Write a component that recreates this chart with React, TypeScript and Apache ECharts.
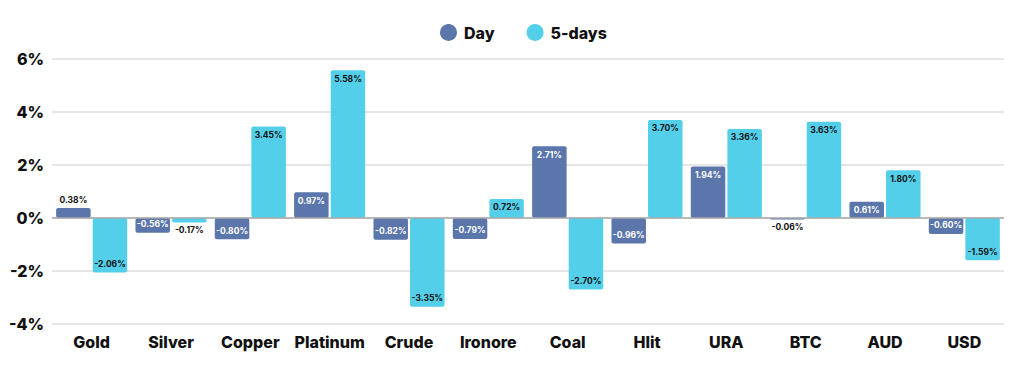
import React, { useEffect, useRef } from "react";
import * as echarts from "echarts";

const categories = ["Gold", "Silver", "Copper", "Platinum", "Crude", "Ironore", "Coal", "Hlit", "URA", "BTC", "AUD", "USD"];
const dayValues = [0.38, -0.56, -0.8, 0.97, -0.82, -0.79, 2.71, -0.96, 1.94, -0.06, 0.61, -0.6];
const fiveDayValues = [-2.06, -0.17, 3.45, 5.58, -3.35, 0.72, -2.7, 3.7, 3.36, 3.63, 1.8, -1.59];
const yTicks = [-4, -2, 0, 2, 4, 6];

const DAY_COLOR = "#5b76ab";
const FIVE_COLOR = "#54cfea";
const FONT = "Inter, 'Noto Sans', sans-serif";

function buildData(values: number[], insideColor: string) {
  return values.map((v) => {
    const small = Math.abs(v) < 0.45;
    let position: string;
    if (small) position = v >= 0 ? "top" : "bottom";
    else position = v >= 0 ? "insideTop" : "insideBottom";
    return {
      value: v,
      label: {
        position,
        color: small ? "#111" : insideColor,
        distance: small ? 3 : 4,
      },
    };
  });
}

export default function App() {
  const ref = useRef<HTMLDivElement>(null);
  useEffect(() => {
    if (!ref.current) return;
    const chart = echarts.init(ref.current, null, { renderer: "svg" });
    const labelBase = {
      show: true,
      fontSize: 8.5,
      fontWeight: 700,
      fontFamily: FONT,
      formatter: (p: any) => p.value.toFixed(2) + "%",
    };
    chart.setOption({
      animation: false,
      backgroundColor: "#fff",
      legend: {
        data: ["Day", "5-days"],
        left: 435,
        top: 19,
        icon: "circle",
        itemWidth: 17,
        itemHeight: 17,
        itemGap: 32,
        textStyle: { fontSize: 16, fontWeight: 800, fontFamily: FONT, color: "#111", padding: [0, 0, 0, 2] },
      },
      grid: { left: 52, right: 12, top: 59, bottom: 44 },
      xAxis: {
        type: "category",
        data: categories,
        axisLine: { show: false },
        axisTick: { show: false },
        axisLabel: { interval: 0, fontSize: 16, fontWeight: 800, fontFamily: FONT, color: "#111", margin: 10 },
      },
      yAxis: {
        type: "value",
        min: yTicks[0],
        max: yTicks[yTicks.length - 1],
        interval: 2,
        axisLabel: {
          fontSize: 16,
          fontWeight: 800,
          fontFamily: FONT,
          color: "#111",
          margin: 8,
          formatter: (v: number) => v + "%",
        },
        splitLine: { lineStyle: { color: "#dedede", width: 1.5 } },
      },
      series: [
        {
          name: "Day",
          type: "bar",
          data: buildData(dayValues, "#fff"),
          itemStyle: { color: DAY_COLOR, borderRadius: 2 },
          barWidth: 34.5,
          barGap: "6%",
          label: labelBase,
          markLine: {
            silent: true,
            symbol: "none",
            label: { show: false },
            lineStyle: { color: "#a8a8a8", type: "solid", width: 1.5 },
            data: [{ yAxis: 0 }],
          },
        },
        {
          name: "5-days",
          type: "bar",
          data: buildData(fiveDayValues, "#111"),
          itemStyle: { color: FIVE_COLOR, borderRadius: 2 },
          barWidth: 34.5,
          barGap: "6%",
          label: labelBase,
        },
      ],
    });
    return () => chart.dispose();
  }, []);
  return <div ref={ref} style={{ position: "fixed", left: 0, top: 0, width: 1016, height: 368 }} />;
}
